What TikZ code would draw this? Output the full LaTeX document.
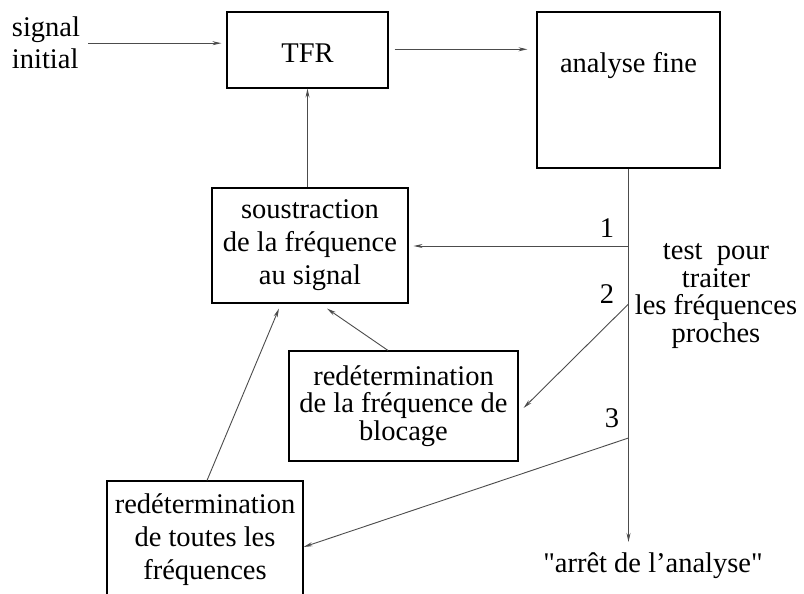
\documentclass[tikz,border=0pt]{standalone}
\usepackage{fontspec}
\setmainfont{Liberation Serif}[Ligatures=TeXOff]
\usetikzlibrary{arrows.meta,calc}
\begin{document}
\begin{tikzpicture}[x=1pt,y=-1pt,
  every node/.append style={font=\fontsize{28.5}{33}\selectfont},
  box/.style={draw=black,line width=1.1pt,inner sep=0pt,align=center},
  tight/.style={font=\fontsize{28.5}{27.5}\selectfont},
  lbl/.style={inner sep=0pt,align=center},
  arr/.style={-{Stealth[length=9pt,width=4pt]},line width=0.9pt,draw=black!70}]
\clip (0,0) rectangle (804,594);
\fill[white] (0,0) rectangle (804,594);
% boxes
\node[box,minimum width=161pt,text height=51pt,text depth=25pt] (tfr) at (307.5,50) {TFR};
\node[box,minimum width=183pt,text height=61pt,text depth=95pt] (an) at (628.5,90) {analyse fine};
\node[box,minimum width=196pt,minimum height=115pt] (sous) at (310,245.5) {soustraction\\de la fréquence\\au signal};
\node[box,tight,minimum width=229pt,minimum height=110pt] (blk) at (403.5,406) {redétermination\\de la fréquence de\\blocage};
\node[box,minimum width=196pt,minimum height=117pt] (bot) at (205,539.5) {redétermination\\de toutes les\\fréquences};
% texts
\node[lbl,align=left,font=\fontsize{28.5}{32}\selectfont] (sig) at (46,43.2) {signal\\initial};
\node[lbl,tight] (test) at (716,296) {test\ \ pour\\traiter\\les fréquences\\proches};
\node[lbl,anchor=base] (n1) at (607,237) {1};
\node[lbl,anchor=base] (n2) at (607,303) {2};
\node[lbl,anchor=base] (n3) at (612,427) {3};
\node[lbl,anchor=base] (arret) at (653,572) {"arrêt de l’analyse"};
% junctions
\coordinate (j1) at (an.south |- 0,246);
\coordinate (j2) at (an.south |- 0,304);
\coordinate (j3) at (an.south |- 0,438);
\coordinate (stop) at ($(an.south |- arret.north)+(0,-10)$);
% connectors
\draw[arr] ([xshift=8pt]sig.east) -- ($(sig.east -| tfr.west)+(-5,0)$);
\draw[arr] ($(tfr.east)+(6,-0.7)$) -- ($(tfr.east -| an.west)+(-9,-0.7)$);
\draw[arr] (tfr.south |- sous.north) -- (tfr.south);
\draw[arr] (an.south) -- (stop);
\draw[arr] (j1) -- ($(sous.east |- j1)+(5,0)$);
\draw[arr] (j2) -- ($(blk.east)+(5,2)$);
\draw[arr] (j3) -- ($(bot.east)+(0,7.5)$);
\draw[arr] ($(bot.north)+(2,0)$) -- ($(sous.south)+(-31,5)$);
\draw[arr] ($(blk.north)+(-15.5,0)$) -- ($(sous.south)+(17,5)$);
\end{tikzpicture}
\end{document}
